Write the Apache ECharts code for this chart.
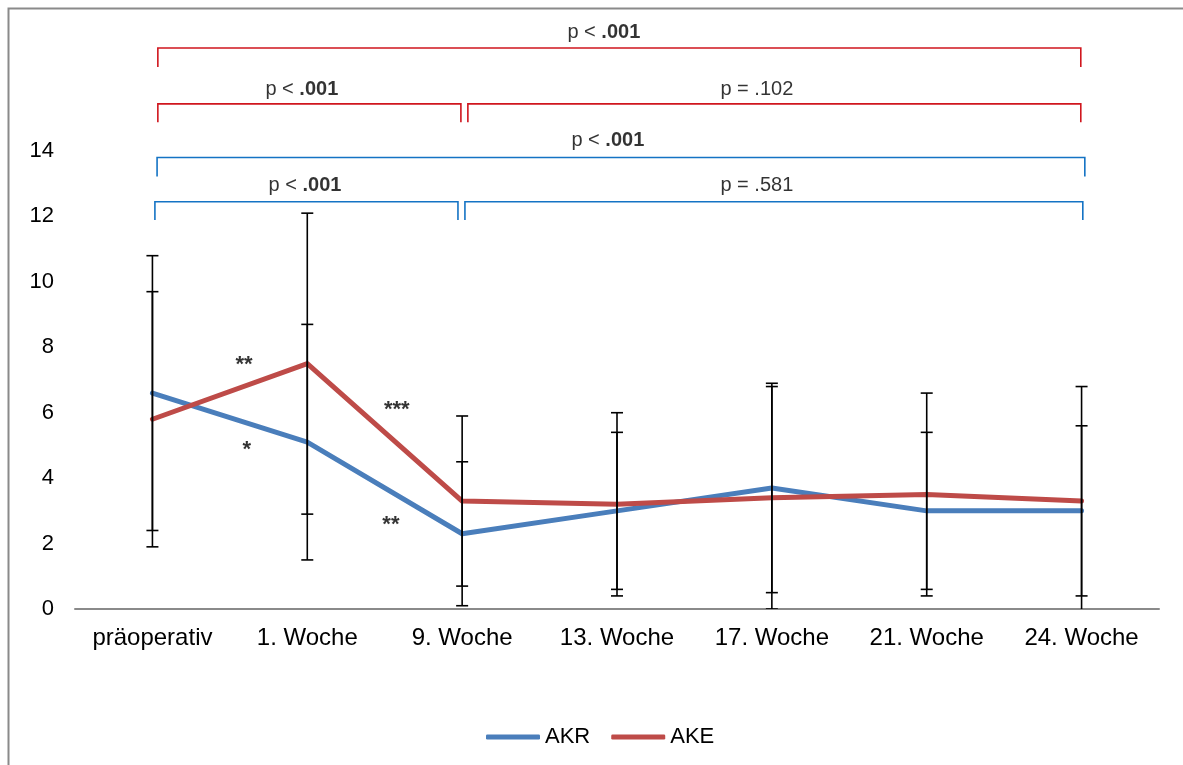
<!DOCTYPE html>
<html>
<head>
<meta charset="utf-8">
<script src="https://cdn.jsdelivr.net/npm/echarts@6/dist/echarts.min.js"></script>
<style>
  html, body { margin: 0; padding: 0; background: #fff; }
  #chart { width: 1183px; height: 765px; }
</style>
</head>
<body>
<div id="chart"></div>
<script>
// Zeitpunkte der Messung
const categories = ['präoperativ', '1. Woche', '9. Woche', '13. Woche', '17. Woche', '21. Woche', '24. Woche'];

// Mittelwerte und Standardabweichungen je Gruppe
const akrMean = [6.6, 5.1, 2.3, 3.0, 3.7, 3.0, 3.0];
const akrSD   = [4.2, 3.6, 2.2, 2.4, 3.2, 2.4, 2.6];
const akeMean = [5.8, 7.5, 3.3, 3.2, 3.4, 3.5, 3.3];
const akeSD   = [3.9, 4.6, 2.6, 2.8, 3.4, 3.1, 3.5];

// Y-Achse
const yTicks = [0, 2, 4, 6, 8, 10, 12, 14];

// Signifikanzklammern: [von, bis, Höhe der Klammer, Ende der Schenkel] in Kategorie-/Wert-Einheiten
const bracketsAKE = [
  [0.035, 5.995, 17.15, 16.57],
  [0.035, 1.992, 15.44, 14.88],
  [2.037, 5.995, 15.44, 14.88]
];
const bracketsAKR = [
  [0.030, 6.021, 13.80, 13.22],
  [0.016, 1.973, 12.45, 11.89],
  [2.018, 6.008, 12.45, 11.89]
];
// p-Werte: [x, y, Text]
const pLabelsAKE = [
  [2.915, 17.62, 'p < .001'],
  [0.965, 15.88, 'p < .001'],
  [3.903, 15.88, 'p = .102']
];
const pLabelsAKR = [
  [2.941, 14.32, 'p < .001'],
  [0.985, 12.95, 'p < .001'],
  [3.903, 12.95, 'p = .581']
];
// Sternchen zwischen den Zeitpunkten: [x, y, Text]
const stars = [
  [0.591, 7.45, '**'],
  [0.610, 4.85, '*'],
  [1.578, 6.07, '***'],
  [1.540, 2.56, '**']
];

const FONT = 'Liberation Sans, Arial, sans-serif';
const BLUE = '#4a7ebb';
const RED = '#be4b48';
const BR_RED = '#d0161e';
const BR_BLUE = '#1473c4';

function errorData(mean, sd) {
  return mean.map((m, i) => [i, m - sd[i], m + sd[i]]);
}

function renderError(params, api) {
  const x = api.value(0);
  const lo = api.coord([x, api.value(1)]);
  const hi = api.coord([x, api.value(2)]);
  const w = 6;
  const style = { stroke: '#000', lineWidth: 1.6 };
  return {
    type: 'group',
    children: [
      { type: 'line', shape: { x1: lo[0], y1: lo[1], x2: hi[0], y2: hi[1] }, style },
      { type: 'line', shape: { x1: lo[0] - w, y1: lo[1], x2: lo[0] + w, y2: lo[1] }, style },
      { type: 'line', shape: { x1: hi[0] - w, y1: hi[1], x2: hi[0] + w, y2: hi[1] }, style }
    ]
  };
}

function bracketRenderer(color) {
  return function (params, api) {
    const x0 = api.value(0), x1 = api.value(1), yl = api.value(2), yb = api.value(3);
    const pts = [api.coord([x0, yb]), api.coord([x0, yl]), api.coord([x1, yl]), api.coord([x1, yb])];
    return {
      type: 'polyline',
      shape: { points: pts },
      style: { stroke: color, lineWidth: 1.6, fill: null }
    };
  };
}

function pFormatter(p) {
  const t = p.data[2];
  const m = t.match(/^(p [<=] )(.+)$/);
  if (m && t.indexOf('<') >= 0) return '{n|' + m[1] + '}{b|' + m[2] + '}';
  return '{n|' + t + '}';
}

const pLabelStyle = {
  show: true,
  position: 'inside',
  formatter: pFormatter,
  rich: {
    n: { fontFamily: FONT, fontSize: 20, color: '#000' },
    b: { fontFamily: FONT, fontSize: 20, fontWeight: 'bold', color: '#000' }
  }
};

const chart = echarts.init(document.getElementById('chart'), null, { renderer: 'canvas' });

chart.setOption({
  animation: false,
  backgroundColor: '#fff',
  textStyle: { fontFamily: FONT },
  grid: { left: 75, right: 24, top: 151, bottom: 156, containLabel: false },
  graphic: [{
    type: 'rect',
    shape: { x: 8.5, y: 8.5, width: 1300, height: 900 },
    style: { fill: null, stroke: '#8a8a8a', lineWidth: 2 },
    silent: true
  }],
  legend: {
    data: ['AKR', 'AKE'],
    left: 481,
    top: 721,
    icon: 'roundRect',
    itemWidth: 54,
    itemHeight: 5,
    itemGap: 21,
    textStyle: { fontFamily: FONT, fontSize: 22, color: '#000' }
  },
  xAxis: [{
    type: 'category',
    data: categories,
    boundaryGap: true,
    axisLine: { lineStyle: { color: '#8a8a8a', width: 2 } },
    axisTick: { show: false },
    axisLabel: { color: '#000', fontFamily: FONT, fontSize: 24, margin: 17, interval: 0, hideOverlap: false }
  }, {
    type: 'value',
    min: -0.5,
    max: 6.5,
    show: false
  }],
  yAxis: {
    type: 'value',
    min: yTicks[0],
    max: yTicks[yTicks.length - 1],
    interval: 2,
    axisLine: { show: false },
    axisTick: { show: false },
    splitLine: { show: false },
    axisLabel: { color: '#000', fontFamily: FONT, fontSize: 22, margin: 21 }
  },
  series: [
    {
      name: 'AKR', type: 'line', data: akrMean, showSymbol: false, symbol: 'none',
      lineStyle: { color: BLUE, width: 5, cap: 'round', join: 'round' },
      itemStyle: { color: BLUE }, z: 3
    },
    {
      name: 'AKE', type: 'line', data: akeMean, showSymbol: false, symbol: 'none',
      lineStyle: { color: RED, width: 5, cap: 'round', join: 'round' },
      itemStyle: { color: RED }, z: 3
    },
    {
      name: 'AKR SD', type: 'custom', renderItem: renderError,
      data: errorData(akrMean, akrSD), encode: { x: 0, y: [1, 2] }, clip: true, z: 5, silent: true
    },
    {
      name: 'AKE SD', type: 'custom', renderItem: renderError,
      data: errorData(akeMean, akeSD), encode: { x: 0, y: [1, 2] }, clip: true, z: 5, silent: true
    },
    {
      name: 'AKE Klammern', type: 'custom', xAxisIndex: 1, renderItem: bracketRenderer(BR_RED),
      data: bracketsAKE, encode: { x: [0, 1], y: [2, 3] }, clip: false, silent: true
    },
    {
      name: 'AKR Klammern', type: 'custom', xAxisIndex: 1, renderItem: bracketRenderer(BR_BLUE),
      data: bracketsAKR, encode: { x: [0, 1], y: [2, 3] }, clip: false, silent: true
    },
    {
      name: 'p AKE', type: 'scatter', xAxisIndex: 1, symbolSize: 0,
      data: pLabelsAKE, label: pLabelStyle, clip: false, silent: true
    },
    {
      name: 'p AKR', type: 'scatter', xAxisIndex: 1, symbolSize: 0,
      data: pLabelsAKR, label: pLabelStyle, clip: false, silent: true
    },
    {
      name: 'Sterne', type: 'scatter', xAxisIndex: 1, symbolSize: 0,
      data: stars, clip: false, silent: true,
      label: {
        show: true, position: 'inside', formatter: p => p.data[2],
        fontFamily: FONT, fontSize: 22, fontWeight: 'bold', color: '#000'
      }
    }
  ]
});
</script>
</body>
</html>
